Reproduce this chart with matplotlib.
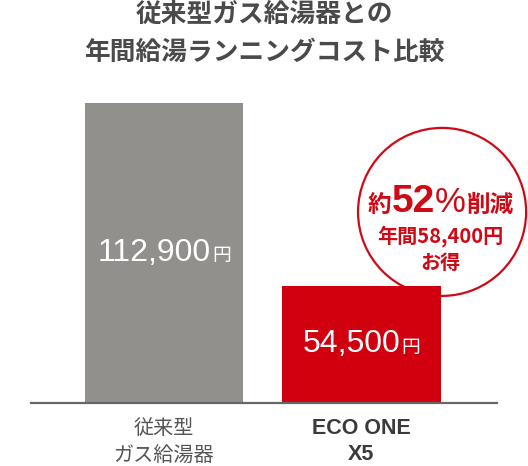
import matplotlib
matplotlib.use("Agg")
import matplotlib.pyplot as plt
from matplotlib.patches import Ellipse
from matplotlib.offsetbox import TextArea, HPacker, AnnotationBbox

plt.rcParams['font.family'] = ['Noto Sans CJK JP', 'DejaVu Sans']

# データ
categories = ['従来型\nガス給湯器', 'ECO ONE\nX5']
costs = [112900, 54500]          # 年間給湯ランニングコスト(円)
bar_heights = [100, 39]          # 画像上の棒の高さ(最大を100とした相対値)
saving = costs[0] - costs[1]     # 58,400円
rate_text = '52'

title_lines = ['従来型ガス給湯器との', '年間給湯ランニングコスト比較']

gray = '#92908d'
red = '#d1000f'
text_red = '#cf0a17'
dark = '#4a4a4a'

fig = plt.figure(figsize=(5.28, 4.66), dpi=100)
ax = fig.add_axes([31 / 528, 63 / 466, 466 / 528, 300 / 466])

x = [0, 1]
ax.bar(x, bar_heights, width=0.80, color=[gray, red], zorder=3)
ax.set_xlim(-0.673, 1.686)
ax.set_ylim(0, 100)

# 軸の見た目
for s in ['top', 'right', 'left']:
    ax.spines[s].set_visible(False)
ax.spines['bottom'].set_color('#666666')
ax.spines['bottom'].set_linewidth(1.6)
ax.spines['bottom'].set_zorder(4)
ax.set_yticks([])
ax.set_xticks(x)
ax.set_xticklabels(categories)
ax.tick_params(axis='x', length=0, pad=11)
labels = ax.get_xticklabels()
labels[0].set_fontsize(14.5)
labels[0].set_color('#555555')
labels[0].set_linespacing(1.35)
labels[1].set_family(['Liberation Sans', 'DejaVu Sans'])
labels[1].set_fontweight('bold')
labels[1].set_fontsize(15.5)
labels[1].set_color('#3a3a3a')
labels[1].set_linespacing(1.3)

# 棒の中の金額
for xi, h, c in zip(x, bar_heights, costs):
    num = TextArea(f'{c:,}', textprops=dict(color='white', fontsize=23,
                                            family=['Liberation Sans', 'DejaVu Sans']))
    yen = TextArea('円', textprops=dict(color='white', fontsize=13.5))
    box = HPacker(children=[num, yen], align='baseline', pad=0, sep=1)
    ab = AnnotationBbox(box, (xi, h / 2), frameon=False, box_alignment=(0.5, 0.5),
                        zorder=5, annotation_clip=False)
    ax.add_artist(ab)

# 削減率の円
circle = Ellipse((1.408, 63.7), width=0.851, height=56.0, facecolor='white',
                 edgecolor=text_red, linewidth=1.6, zorder=2, clip_on=False)
ax.add_patch(circle)

t1 = TextArea('約', textprops=dict(color=text_red, fontsize=17, fontweight='bold'))
t2 = TextArea(rate_text, textprops=dict(color=text_red, fontsize=28, fontweight='bold',
                                        family=['Liberation Sans', 'DejaVu Sans']))
t3 = TextArea('%', textprops=dict(color=text_red, fontsize=25,
                                  family=['Liberation Sans', 'DejaVu Sans']))
t4 = TextArea('削減', textprops=dict(color=text_red, fontsize=17, fontweight='bold'))
rate_box = HPacker(children=[t1, t2, t3, t4], align='baseline', pad=0, sep=0)
ax.add_artist(AnnotationBbox(rate_box, (1.40, 67.0), frameon=False,
                             box_alignment=(0.5, 0.5), zorder=6, annotation_clip=False))

ax.text(1.40, 55.5, f'年間{saving:,}円', color=text_red, fontsize=14.5,
        fontweight='bold', ha='center', va='center', zorder=6, clip_on=False)
ax.text(1.40, 46.7, 'お得', color=text_red, fontsize=14.5,
        fontweight='bold', ha='center', va='center', zorder=6, clip_on=False)

# タイトル
fig.text(0.5, 1 - 14 / 466, title_lines[0], ha='center', va='center',
         fontsize=18.5, fontweight='bold', color=dark)
fig.text(0.5, 1 - 52 / 466, title_lines[1], ha='center', va='center',
         fontsize=18.5, fontweight='bold', color=dark)

fig.savefig('out.png', dpi=100, facecolor='white')
